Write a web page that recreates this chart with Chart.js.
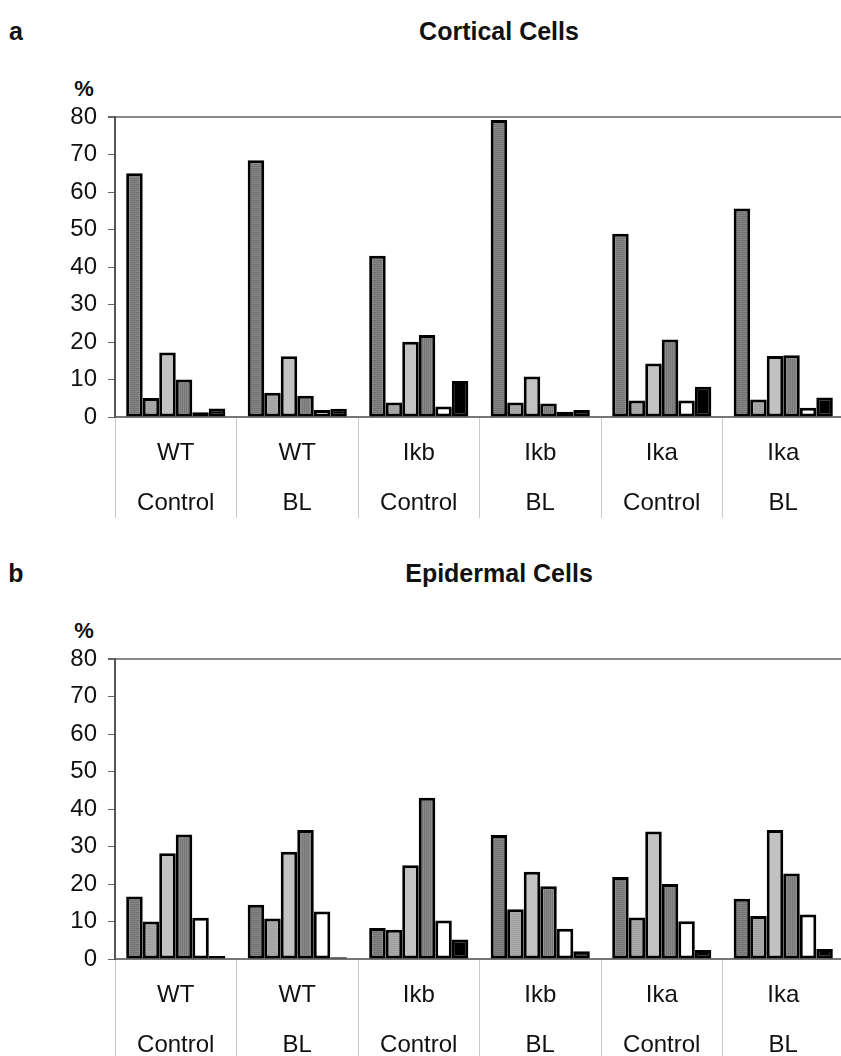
<!DOCTYPE html>
<html><head><meta charset="utf-8">
<script src="https://cdn.jsdelivr.net/npm/chart.js@4"></script>
<style>
html,body{margin:0;padding:0;background:#fff;overflow:hidden;width:841px;height:1056px;}
.panel{position:absolute;left:0;width:850px;height:542px;}
.panel canvas{position:absolute;left:0;top:0;}
.lbl{position:absolute;font-family:"Liberation Sans",Arial,sans-serif;font-weight:bold;color:#111;white-space:nowrap;line-height:1;transform:translate(-50%,-50%);}
</style></head><body>
<div class="lbl" style="left:16px;top:31px;font-size:25px;">a</div>
<div class="lbl" style="left:499px;top:31px;font-size:25px;" id="titleA"></div>
<div class="lbl" style="left:84px;top:89px;font-size:22px;">%</div>
<div class="panel" style="top:0px;"><canvas id="chartA" width="850" height="542"></canvas></div>

<div class="lbl" style="left:16px;top:573px;font-size:25px;">b</div>
<div class="lbl" style="left:499px;top:573px;font-size:25px;" id="titleB"></div>
<div class="lbl" style="left:84px;top:631px;font-size:22px;">%</div>
<div class="panel" style="top:542px;"><canvas id="chartB" width="850" height="542"></canvas></div>
<script>
// ---- data ----
const genotypes  = ['WT', 'WT', 'Ikb', 'Ikb', 'Ika', 'Ika'];
const treatments = ['Control', 'BL', 'Control', 'BL', 'Control', 'BL'];
const titleCortical  = 'Cortical Cells';
const titleEpidermal = 'Epidermal Cells';
const yTicks = [0, 10, 20, 30, 40, 50, 60, 70, 80];

// Cortical cells (panel a), six series per group
const cortS1 = [65.0, 68.5, 43.0, 79.2, 48.9, 55.6];
const cortS2 = [5.1, 6.5, 3.9, 3.9, 4.4, 4.7];
const cortS3 = [17.2, 16.2, 20.1, 10.8, 14.3, 16.3];
const cortS4 = [10.0, 5.7, 21.9, 3.6, 20.7, 16.5];
const cortS5 = [1.3, 1.9, 2.8, 1.4, 4.4, 2.5];
const cortS6 = [2.3, 2.2, 9.6, 1.9, 8.1, 5.2];

// Epidermal cells (panel b)
const epiS1 = [16.7, 14.5, 8.3, 33.1, 21.9, 16.1];
const epiS2 = [10.0, 10.8, 7.8, 13.3, 11.1, 11.5];
const epiS3 = [28.2, 28.6, 25.0, 23.3, 34.0, 34.4];
const epiS4 = [33.2, 34.4, 43.0, 19.4, 20.0, 22.8];
const epiS5 = [11.0, 12.7, 10.3, 8.1, 10.1, 11.9];
const epiS6 = [0.8, 0.5, 5.2, 2.1, 2.4, 2.7];

document.getElementById('titleA').textContent = titleCortical;
document.getElementById('titleB').textContent = titleEpidermal;

// ---- styles ----
function stripe(c1, c2, vertical) {
  const cv = document.createElement('canvas');
  cv.width = vertical ? 2 : 1; cv.height = vertical ? 1 : 2;
  const g = cv.getContext('2d');
  g.fillStyle = c1; g.fillRect(0, 0, 1, 1);
  g.fillStyle = c2; if (vertical) g.fillRect(1, 0, 1, 1); else g.fillRect(0, 1, 1, 1);
  return g.createPattern(cv, 'repeat');
}
const fills = [
  stripe('#727272', '#868686', false),
  stripe('#a0a0a0', '#aaaaaa', false),
  '#c2c2c2',
  stripe('#767676', '#8a8a8a', true),
  '#ffffff',
  '#000000'
];
const FONT = '"Liberation Sans", Arial, sans-serif';

function makeChart(id, series) {
  return new Chart(document.getElementById(id), {
    type: 'bar',
    data: {
      labels: genotypes.map((g, i) => [g, treatments[i]]),
      datasets: series.map((d, i) => ({
        data: d,
        backgroundColor: fills[i],
        borderColor: '#000',
        borderWidth: 3,
        borderSkipped: false,
        barPercentage: 1.0,
        categoryPercentage: 0.816
      }))
    },
    options: {
      responsive: false,
      animation: false,
      devicePixelRatio: 1,
      layout: { padding: { top: 117, right: 6, left: 0, bottom: 0 } },
      plugins: { legend: { display: false }, tooltip: { enabled: false }, title: { display: false } },
      scales: {
        x: {
          grid: { display: true, drawOnChartArea: false, drawTicks: true, tickLength: 101, color: '#c8c8c8', lineWidth: 1, offset: true },
          border: { display: true, color: '#777', width: 2 },
          ticks: { font: { family: FONT, size: 24, lineHeight: 50 / 24 }, color: '#111', padding: -90, maxRotation: 0, autoSkip: false },
          afterFit: s => { s.height = 125; }
        },
        y: {
          min: yTicks[0], max: yTicks[yTicks.length - 1],
          afterBuildTicks: s => { s.ticks = yTicks.map(v => ({ value: v })); },
          ticks: { font: { family: FONT, size: 24 }, color: '#111', padding: 11 },
          grid: {
            drawOnChartArea: true, tickLength: 7,
            color: c => (c.tick && c.tick.value === 80) ? '#8a8a8a' : 'rgba(0,0,0,0)',
            lineWidth: c => (c.tick && c.tick.value === 80) ? 2 : 1,
            tickColor: '#666'
          },
          border: { display: true, color: '#555', width: 2 },
          afterFit: s => { s.width = 115; }
        }
      }
    }
  });
}
makeChart('chartA', [cortS1, cortS2, cortS3, cortS4, cortS5, cortS6]);
makeChart('chartB', [epiS1, epiS2, epiS3, epiS4, epiS5, epiS6]);
</script>
</body></html>
